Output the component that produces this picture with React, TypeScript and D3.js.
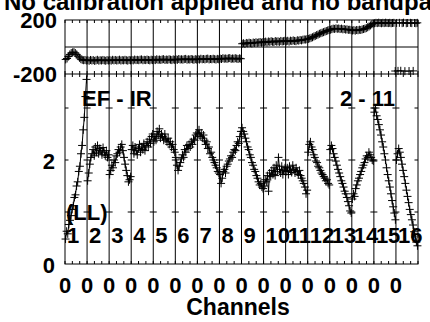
import * as d3 from "d3";

// amplitude per IF (20 channels each)
const amp01 = [0.48, 0.63, 0.58, 0.76, 0.84, 0.93, 1.05, 1.12, 1.28, 1.33, 1.5, 1.58, 1.78, 1.88, 2.12, 2.28, 2.58, 2.82, 3.22, 3.55];
const amp02 = [1.6, 1.75, 1.92, 2.05, 2.12, 2.2, 2.08, 2.25, 2.15, 2.28, 2.12, 2.22, 2.18, 2.1, 2.24, 2.15, 2.08, 2.18, 2.05, 2.1];
const amp03 = [1.72, 1.8, 1.9, 1.85, 2.0, 1.95, 2.08, 2.12, 2.2, 2.15, 2.25, 2.3, 2.18, 2.05, 1.92, 1.8, 1.7, 1.58, 1.62, 1.68];
const amp04 = [2.2, 2.28, 2.12, 2.25, 2.18, 2.1, 2.22, 2.3, 2.15, 2.25, 2.2, 2.32, 2.18, 2.28, 2.35, 2.25, 2.4, 2.32, 2.45, 2.5];
const amp05 = [2.35, 2.45, 2.38, 2.55, 2.48, 2.6, 2.42, 2.5, 2.45, 2.38, 2.5, 2.4, 2.35, 2.42, 2.3, 2.35, 2.25, 2.3, 2.2, 2.15];
const amp06 = [2.05, 1.9, 1.8, 1.88, 1.95, 2.02, 2.1, 2.05, 2.2, 2.15, 2.28, 2.22, 2.3, 2.25, 2.35, 2.3, 2.4, 2.38, 2.48, 2.52];
const amp07 = [2.5, 2.58, 2.45, 2.52, 2.42, 2.48, 2.38, 2.3, 2.35, 2.22, 2.25, 2.12, 2.15, 2.05, 2.0, 1.95, 1.9, 1.85, 1.78, 1.75];
const amp08 = [1.72, 1.55, 1.65, 1.78, 1.82, 1.75, 1.88, 1.92, 1.98, 2.02, 2.08, 2.05, 2.15, 2.2, 2.18, 2.28, 2.35, 2.32, 2.45, 2.55];
const amp09 = [2.62, 2.55, 2.5, 2.42, 2.35, 2.25, 2.2, 2.1, 2.05, 1.95, 1.9, 1.82, 1.78, 1.7, 1.65, 1.58, 1.52, 1.55, 1.48, 1.45];
const amp10 = [1.5, 1.62, 1.58, 1.7, 1.4, 1.75, 1.68, 1.8, 1.72, 1.85, 1.7, 1.9, 1.78, 2.05, 1.82, 1.75, 1.88, 1.72, 1.8, 1.85];
const amp11 = [1.78, 1.85, 1.72, 1.88, 1.8, 1.76, 1.9, 1.82, 1.75, 1.85, 1.78, 1.72, 1.8, 1.7, 1.65, 1.6, 1.55, 1.48, 1.35, 1.42];
const amp12 = [2.15, 2.3, 2.35, 2.25, 2.2, 2.1, 2.05, 1.98, 1.95, 1.88, 1.85, 1.8, 1.75, 1.72, 1.68, 1.65, 1.6, 1.62, 1.55, 1.52];
const amp13 = [2.2, 2.28, 2.22, 2.12, 2.05, 1.98, 1.9, 1.82, 1.75, 1.68, 1.6, 1.55, 1.48, 1.4, 1.35, 1.28, 1.2, 1.12, 1.02, 0.98];
const amp14 = [1.25, 1.35, 1.3, 1.45, 1.52, 1.6, 1.65, 1.72, 1.78, 1.85, 1.9, 1.95, 2.02, 2.08, 2.05, 2.15, 2.1, 2.05, 2.0, 1.98];
const amp15 = [2.92, 3.0, 2.85, 2.78, 2.68, 2.58, 2.48, 2.35, 2.25, 2.12, 2.0, 1.85, 1.72, 1.6, 1.48, 1.35, 1.22, 1.1, 0.98, 0.85];
const amp16 = [2.0, 2.12, 2.22, 2.15, 2.05, 1.92, 1.8, 1.68, 1.55, 1.42, 1.3, 1.18, 1.05, 0.95, 0.85, 0.75, 0.62, 0.52, 0.42, 0.35];
const ampByIF = [amp01, amp02, amp03, amp04, amp05, amp06, amp07, amp08,
  amp09, amp10, amp11, amp12, amp13, amp14, amp15, amp16];

// phase per IF (degrees), upper panel
const ph01 = [-92, -85, -70, -55, -45, -40, -38, -45, -55, -68, -80, -90, -95, -98, -96, -100];
const ph02 = [-98, -102, -96, -100, -97, -103, -99, -95, -101, -98, -100, -96, -99, -102, -97, -100];
const ph03 = [-97, -101, -95, -99, -96, -100, -98, -94, -100, -97, -99, -95, -98, -101, -96, -99];
const ph04 = [-96, -99, -93, -97, -95, -98, -94, -92, -98, -95, -97, -93, -96, -99, -94, -97];
const ph05 = [-94, -97, -91, -95, -93, -96, -92, -90, -96, -93, -95, -91, -94, -97, -92, -95];
const ph06 = [-92, -95, -89, -93, -91, -94, -90, -88, -94, -91, -93, -89, -92, -95, -90, -93];
const ph07 = [-90, -93, -87, -91, -89, -92, -88, -86, -92, -89, -91, -87, -90, -93, -88, -91];
const ph08 = [-86, -89, -83, -87, -85, -88, -84, -82, -88, -85, -87, -83, -86, -89, -84, -87];
const ph09 = [24, 28, 22, 30, 27, 32, 29, 26, 33, 30, 35, 31, 34, 37, 32, 36];
const ph10 = [36, 40, 34, 41, 38, 43, 39, 37, 44, 40, 42, 38, 45, 41, 43, 46];
const ph11 = [42, 46, 40, 47, 44, 49, 45, 43, 50, 47, 52, 49, 54, 56, 55, 58];
const ph12 = [60, 64, 68, 72, 78, 82, 88, 92, 98, 102, 106, 110, 114, 118, 122, 126];
const ph13 = [128, 132, 136, 134, 138, 135, 137, 133, 136, 131, 133, 129, 131, 127, 128, 125];
const ph14 = [122, 125, 121, 126, 124, 128, 126, 130, 133, 136, 140, 146, 152, 160, 168, 174];
const ph15 = [176, 179, 177, 180, 178, 176, 179, 177, 180, 178, 177, 179, 176, 178, 179, -178];
const ph16 = [178, -177, 179, -176, 177, 180, -179, 176, 178, -178, 179, 177, -177, 178, 176, 179];
const phaseByIF = [ph01, ph02, ph03, ph04, ph05, ph06, ph07, ph08,
  ph09, ph10, ph11, ph12, ph13, ph14, ph15, ph16];

const ifNames = ["1", "2", "3", "4", "5", "6", "7", "8", "9", "10", "11", "12", "13", "14", "15", "16"];
const channelTicks = ["0", "0", "0", "0", "0", "0", "0", "0", "0", "0", "0", "0", "0", "0", "0", "0"];
const phaseTicks = [-200, 200];
const ampTicks = [0, 2];
const ampMinorTicks = [1, 2, 3];

const title = "No calibration applied and no bandpass";
const baselineLabel = "2 - 11";
const sourceLabel = "EF - IR";
const polLabel = "(LL)";

const FONT = "'Liberation Sans', Arial, Helvetica, sans-serif";
const plus = "M-4,0H4M0,-4V4";

export default function App() {
  const width = 430;
  const height = 322;
  const left = 65, right = 418, top = 20, mid = 74, bottom = 264;
  const nIF = ifNames.length;

  const x = d3.scaleLinear().domain([0, nIF]).range([left, right]);
  const yPh = d3.scaleLinear().domain([-200, 200]).range([mid, top]);
  const yAmp = d3.scaleLinear().domain([0, 2]).range([bottom, 160]);

  const minor = d3.range(0, nIF * 3 + 1).map((i) => x(i / 3));
  const chX = (k: number, j: number, n: number) => x(k + (j + 0.5) / n);

  const ampLine = (vals: number[], k: number) =>
    d3.line<number>().x((_, j) => chX(k, j, vals.length)).y((d) => yAmp(d))(vals) ?? "";

  // break the phase line where it wraps around +-180
  const phLine = (vals: number[], k: number) =>
    vals
      .map((v, j) => {
        const jump = j === 0 || Math.abs(v - vals[j - 1]) > 180;
        return `${jump ? "M" : "L"}${chX(k, j, vals.length)},${yPh(v)}`;
      })
      .join("");

  const txt = { fontFamily: FONT, fontWeight: 700, fontSize: 22, fill: "#000" } as const;

  return (
    <svg width={width} height={height} style={{ position: "absolute", left: 0, top: 0, background: "#fff" }}>
      <rect width={width} height={height} fill="#fff" />
      <text x={4} y={10} {...txt} fontSize={24}>{title}</text>

      {/* frames */}
      <rect x={left} y={top} width={right - left} height={bottom - top} fill="none" stroke="#000" />
      <line x1={left} x2={right} y1={mid} y2={mid} stroke="#000" />
      <line x1={left} x2={right} y1={yPh(0)} y2={yPh(0)} stroke="#000" />

      {d3.range(1, nIF).map((k) => (
        <line key={`v${k}`} x1={x(k)} x2={x(k)} y1={top} y2={bottom} stroke="#000" />
      ))}

      {/* minor x ticks */}
      {minor.map((mx, i) => (
        <g key={`m${i}`} stroke="#000">
          <line x1={mx} x2={mx} y1={top} y2={top + 3} />
          <line x1={mx} x2={mx} y1={mid - 3} y2={mid + 3} />
          <line x1={mx} x2={mx} y1={bottom - 3} y2={bottom} />
        </g>
      ))}

      {/* amplitude ticks on every IF separator */}
      {ampMinorTicks.map((t) =>
        d3.range(0, nIF + 1).map((k) => {
          const cx = x(k);
          const x1 = k === 0 ? cx : cx - 3.5;
          const x2 = k === nIF ? cx : cx + 3.5;
          return <line key={`a${t}-${k}`} x1={x1} x2={x2} y1={yAmp(t)} y2={yAmp(t)} stroke="#000" />;
        })
      )}

      {/* y labels */}
      {phaseTicks.map((t) => (
        <text key={`p${t}`} x={57} y={yPh(t) + 8} textAnchor="end" {...txt}>{t}</text>
      ))}
      {ampTicks.map((t) => (
        <text key={`q${t}`} x={55} y={yAmp(t) + 9} textAnchor="end" {...txt}>{t}</text>
      ))}

      {/* channel tick labels */}
      {channelTicks.map((t, k) => (
        <text key={`c${k}`} x={x(k)} y={293} textAnchor="middle" {...txt}>{t}</text>
      ))}
      <text x={238} y={315} textAnchor="middle" {...txt} fontSize={23}>Channels</text>

      {/* data */}
      {phaseByIF.map((vals, k) => (
        <g key={`ph${k}`}>
          <path d={phLine(vals, k)} fill="none" stroke="#000" />
          {vals.map((v, j) => (
            <path key={j} d={plus} transform={`translate(${chX(k, j, vals.length)},${yPh(v)})`} stroke="#000" fill="none" />
          ))}
        </g>
      ))}
      {ampByIF.map((vals, k) => (
        <g key={`am${k}`}>
          <path d={ampLine(vals, k)} fill="none" stroke="#000" />
          {vals.map((v, j) => (
            <path key={j} d={plus} transform={`translate(${chX(k, j, vals.length)},${yAmp(v)})`} stroke="#000" fill="none" />
          ))}
        </g>
      ))}

      {/* in-plot labels */}
      {ifNames.map((n, k) => (
        <text key={`n${k}`} x={x(k) + 2} y={243} {...txt}>{n}</text>
      ))}
      <text x={82} y={106} {...txt}>{sourceLabel}</text>
      <text x={395} y={106} textAnchor="end" {...txt}>{baselineLabel}</text>
      <text x={66} y={220} {...txt}>{polLabel}</text>
    </svg>
  );
}
